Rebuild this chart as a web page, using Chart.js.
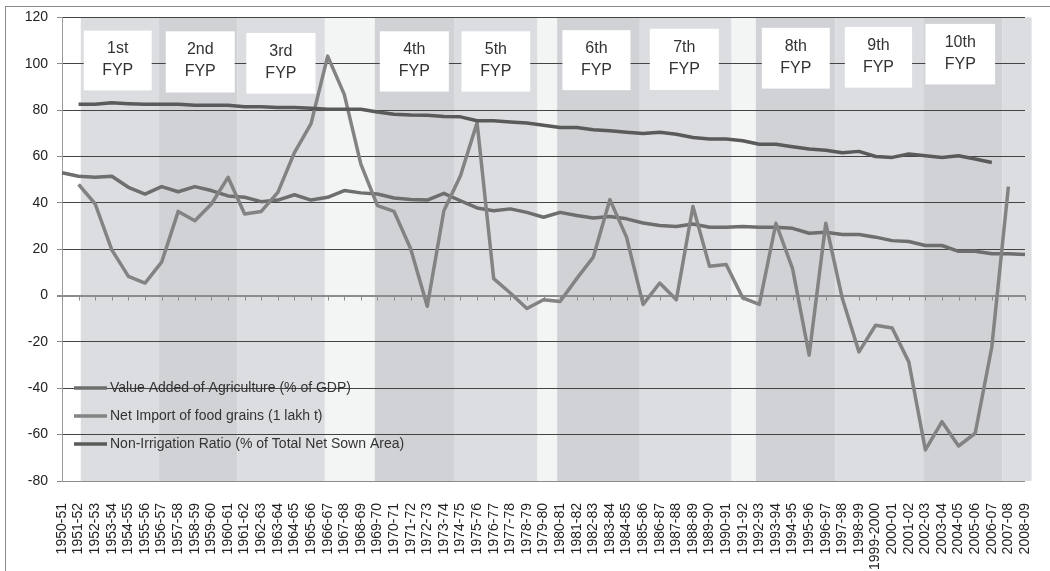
<!DOCTYPE html>
<html>
<head>
<meta charset="utf-8">
<script src="https://cdn.jsdelivr.net/npm/chart.js@4.4.0/dist/chart.umd.min.js"></script>
<style>
  html, body { margin: 0; padding: 0; background: #fff; }
  #wrap { position: relative; width: 1050px; height: 571px; overflow: hidden; }
  #frame { position: absolute; left: 5px; top: 6px; width: 1100px; height: 600px;
           border-left: 1px solid #8a8a8a; border-top: 1px solid #8a8a8a; }
  canvas { position: absolute; left: 0; top: 0; }
</style>
</head>
<body>
<div id="wrap">
  <div id="frame"></div>
  <canvas id="agriChart" width="1050" height="571"></canvas>
</div>
<script>
// categories
const years = ['1950-51','1951-52','1952-53','1953-54','1954-55','1955-56','1956-57','1957-58','1958-59','1959-60',
  '1960-61','1961-62','1962-63','1963-64','1964-65','1965-66','1966-67','1967-68','1968-69','1969-70',
  '1970-71','1971-72','1972-73','1973-74','1974-75','1975-76','1976-77','1977-78','1978-79','1979-80',
  '1980-81','1981-82','1982-83','1983-84','1984-85','1985-86','1986-87','1987-88','1988-89','1989-90',
  '1990-91','1991-92','1992-93','1993-94','1994-95','1995-96','1996-97','1997-98','1998-99','1999-2000',
  '2000-01','2001-02','2002-03','2003-04','2004-05','2005-06','2006-07','2007-08','2008-09'];

// series
const valueAdded = [53, 51.5, 51, 51.5, 46.7, 43.8, 47, 44.8, 47, 45.3,
  43, 42.4, 40.5, 41.2, 43.5, 41.2, 42.4, 45.3, 44.3, 43.8,
  42.1, 41.4, 41.2, 44.1, 40.9, 37.8, 36.6, 37.4, 35.9, 33.8,
  35.9, 34.5, 33.5, 34.1, 33.1, 31.3, 30.2, 29.8, 30.9, 29.5,
  29.5, 29.8, 29.5, 29.5, 29, 26.9, 27.3, 26.3, 26.3, 25.2,
  23.7, 23.3, 21.6, 21.6, 19.1, 19.1, 18, 18, 17.7];

const netImport = [null, 48, 39.5, 19.7, 8.3, 5.4, 14.4, 36.3, 32.3, 39.5,
  51, 35.2, 36.3, 44.5, 61.7, 74.2, 103.3, 86.8, 56.7, 38.8,
  36.3, 20.2, -4.6, 36.6, 51.7, 74.6, 7.3, 1.1, -5.6, -1.8,
  -2.6, 7.3, 16.6, 41.4, 25.2, -3.8, 5.4, -1.8, 38.4, 12.6,
  13.4, -1, -3.8, 31.2, 11.6, -25.7, 31.2, -1.3, -24.3, -12.8,
  -14, -28.6, -66.6, -54.4, -64.9, -59.4, -22.2, 47, null];

const nonIrrigation = [null, 82.5, 82.5, 83.2, 82.8, 82.5, 82.5, 82.5, 82.1, 82.1,
  82.1, 81.5, 81.5, 81.1, 81.1, 80.8, 80.4, 80.4, 80.4, 79.2,
  78.2, 77.9, 77.8, 77.2, 77.1, 75.4, 75.4, 74.9, 74.4, 73.5,
  72.5, 72.5, 71.5, 71.1, 70.5, 69.9, 70.5, 69.6, 68.2, 67.5,
  67.5, 66.8, 65.3, 65.3, 64.2, 63.2, 62.7, 61.6, 62.2, 60,
  59.6, 61.1, 60.3, 59.6, 60.3, 58.9, 57.4, null, null];

const planNames = ['1st', '2nd', '3rd', '4th', '5th', '6th', '7th', '8th', '9th', '10th'];

// shaded plan periods, in category-index units
const LIGHT = '#dcdde0', DARK = '#d1d2d5', PALE = '#f3f4f4';
const bands = [
  [1.13, 5.84, LIGHT], [5.84, 10.57, DARK], [10.57, 15.83, LIGHT], [15.83, 18.84, PALE],
  [18.84, 23.61, DARK], [23.61, 28.64, LIGHT], [28.64, 29.82, PALE], [29.82, 34.8, DARK],
  [34.8, 40.33, LIGHT], [40.33, 41.79, PALE], [41.79, 46.59, DARK], [46.59, 51.87, LIGHT],
  [51.87, 56.63, DARK], [56.63, 58.4, LIGHT]
];
// label boxes: [x from, x to (index), y top, y bottom (value)]
const boxes = [
  [1.31, 5.40, 114.3, 88.5], [6.25, 10.40, 114.0, 87.6], [11.10, 15.27, 113.3, 87.1],
  [19.14, 23.30, 114.0, 88.0], [24.06, 28.20, 114.0, 88.0], [30.14, 34.24, 114.5, 88.6],
  [35.40, 39.56, 115.1, 88.7], [42.15, 46.24, 115.5, 89.3], [47.15, 51.20, 115.9, 89.7],
  [52.00, 56.20, 117.2, 91.1]
];

const FONT = "'Liberation Sans', Arial, sans-serif";

const planPlugin = {
  id: 'planPlugin',
  beforeDraw(chart) {
    const { ctx, chartArea, scales: { x } } = chart;
    ctx.save();
    bands.forEach(b => {
      const x0 = x.getPixelForValue(b[0]);
      const x1 = x.getPixelForValue(b[1]);
      ctx.fillStyle = b[2];
      ctx.fillRect(x0, chartArea.top, x1 - x0, chartArea.bottom - chartArea.top);
    });
    ctx.restore();
  },
  beforeDatasetsDraw(chart) {
    const { ctx, scales: { x, y } } = chart;
    ctx.save();
    // tick marks on the zero line
    const y0 = y.getPixelForValue(0);
    ctx.strokeStyle = '#8c8c8c';
    ctx.lineWidth = 1;
    years.forEach((yr, i) => {
      const px = Math.round(x.getPixelForValue(i)) + 0.5;
      ctx.beginPath();
      ctx.moveTo(px, y0);
      ctx.lineTo(px, y0 + 5);
      ctx.stroke();
    });
    // plan boxes
    ctx.font = '16px ' + FONT;
    ctx.textAlign = 'center';
    ctx.textBaseline = 'middle';
    boxes.forEach((b, i) => {
      const x0 = x.getPixelForValue(b[0]), x1 = x.getPixelForValue(b[1]);
      const t = y.getPixelForValue(b[2]), btm = y.getPixelForValue(b[3]);
      ctx.fillStyle = '#ffffff';
      ctx.fillRect(x0, t, x1 - x0, btm - t);
      const cx = (x0 + x1) / 2, cy = (t + btm) / 2 - 1;
      ctx.fillStyle = '#333333';
      ctx.fillText(planNames[i], cx, cy - 11);
      ctx.fillText('FYP', cx, cy + 11);
    });
    ctx.restore();
  },
  afterDatasetsDraw(chart) {
    const { ctx, chartArea } = chart;
    ctx.save();
    ctx.font = '14px ' + FONT;
    ctx.textBaseline = 'middle';
    ctx.textAlign = 'left';
    chart.data.datasets.forEach((ds, i) => {
      const ly = 388 + i * 28;
      const lx = chartArea.left + 12;
      ctx.strokeStyle = ds.borderColor;
      ctx.lineWidth = 3.5;
      ctx.beginPath();
      ctx.moveTo(lx, ly);
      ctx.lineTo(lx + 33, ly);
      ctx.stroke();
      ctx.fillStyle = '#333333';
      ctx.fillText(ds.label, lx + 36, ly);
    });
    ctx.restore();
  }
};

const ctxAgri = document.getElementById('agriChart').getContext('2d');
const agriChart = new Chart(ctxAgri, {
  type: 'line',
  data: {
    labels: years,
    datasets: [{
      label: 'Value Added of Agriculture (% of GDP)',
      data: valueAdded,
      borderColor: '#6e6e6e',
      borderWidth: 3.5,
      order: 3
    }, {
      label: 'Net Import of food grains (1 lakh t)',
      data: netImport,
      borderColor: '#838383',
      borderWidth: 3.5,
      order: 2
    }, {
      label: 'Non-Irrigation Ratio (% of Total Net Sown Area)',
      data: nonIrrigation,
      borderColor: '#5a5a5a',
      borderWidth: 3.5,
      order: 1
    }]
  },
  options: {
    responsive: false,
    animation: false,
    layout: { padding: { top: 17, right: 25, left: 0, bottom: 0 } },
    elements: {
      point: { radius: 0 },
      line: { tension: 0, borderJoinStyle: 'round', borderCapStyle: 'butt' }
    },
    scales: {
      x: {
        offset: false,
        grid: { display: false },
        border: { display: false },
        ticks: {
          autoSkip: false,
          minRotation: 90,
          maxRotation: 90,
          padding: 14,
          color: '#222',
          font: { family: FONT, size: 14 }
        },
        afterFit(scale) {
          scale.height = 90;
          scale.paddingLeft = 0;
          scale.paddingRight = 0;
        }
      },
      y: {
        min: -80,
        max: 120,
        ticks: {
          stepSize: 20,
          padding: 9,
          color: '#222',
          font: { family: FONT, size: 14 }
        },
        grid: {
          color: ctx => (ctx.tick && (ctx.tick.value === 0 || ctx.tick.value === -80)) ? '#8c8c8c' : '#444444',
          lineWidth: ctx => (ctx.tick && ctx.tick.value === 0) ? 2 : 1,
          tickColor: '#8c8c8c',
          tickLength: 5
        },
        border: { color: '#9a9a9a', width: 1 },
        afterFit(scale) { scale.width = 62; }
      }
    },
    plugins: {
      legend: { display: false },
      tooltip: { enabled: false }
    }
  },
  plugins: [planPlugin]
});
</script>
</body>
</html>
